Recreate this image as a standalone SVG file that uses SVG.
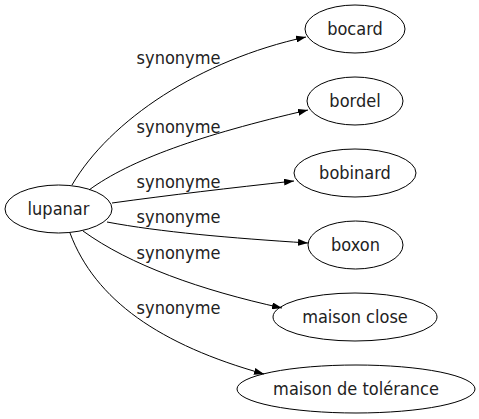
<svg xmlns="http://www.w3.org/2000/svg" width="479" height="419" viewBox="0 0 479 419">
<style>
.node ellipse{fill:none;stroke:#000;stroke-width:1}
.node text,.lbl{font-family:"DejaVu Sans Condensed","DejaVu Sans",sans-serif;font-stretch:condensed;font-size:18px;fill:#222;text-anchor:middle}
.edge path{fill:none;stroke:#000;stroke-width:1}
</style>
<defs>
<marker id="arr" viewBox="0 0 10 7" refX="10" refY="3.5" markerWidth="10" markerHeight="7" markerUnits="userSpaceOnUse" orient="auto">
<path d="M0,0 L10,3.5 L0,7 Z" fill="#000"/>
</marker>
</defs>
<rect width="479" height="419" fill="#fff"/>
<g id="edges" class="edge">
<path d="M72,185 C110,120 200,60 306,37" marker-end="url(#arr)"/>
<path d="M89,190 C130,160 200,135 308,110" marker-end="url(#arr)"/>
<path d="M112,203 C170,195 230,188 294,181" marker-end="url(#arr)"/>
<path d="M107,222 C160,232 230,238 308,243" marker-end="url(#arr)"/>
<path d="M83,231 C130,265 200,290 282,308" marker-end="url(#arr)"/>
<path d="M70,233 C95,300 160,345 264,374" marker-end="url(#arr)"/>
<text class="lbl" x="178.5" y="64">synonyme</text>
<text class="lbl" x="178.5" y="133">synonyme</text>
<text class="lbl" x="178.5" y="188">synonyme</text>
<text class="lbl" x="178.5" y="223">synonyme</text>
<text class="lbl" x="178.5" y="259">synonyme</text>
<text class="lbl" x="178.5" y="314">synonyme</text>
</g>
<g id="lupanar" class="node"><ellipse cx="58.5" cy="209" rx="53.5" ry="24"/><text x="58.5" y="215">lupanar</text></g>
<g id="bocard" class="node"><ellipse cx="355" cy="29" rx="50" ry="24"/><text x="355" y="35">bocard</text></g>
<g id="bordel" class="node"><ellipse cx="355" cy="101" rx="48" ry="24"/><text x="355" y="107">bordel</text></g>
<g id="bobinard" class="node"><ellipse cx="355" cy="173" rx="61" ry="24"/><text x="355" y="179">bobinard</text></g>
<g id="boxon" class="node"><ellipse cx="355.5" cy="245" rx="47.5" ry="24"/><text x="355.5" y="251">boxon</text></g>
<g id="maison_close" class="node"><ellipse cx="355" cy="317" rx="82" ry="24"/><text x="355" y="323">maison close</text></g>
<g id="maison_de_tolerance" class="node"><ellipse cx="356" cy="389" rx="119" ry="24"/><text x="356" y="395">maison de tolérance</text></g>
</svg>
